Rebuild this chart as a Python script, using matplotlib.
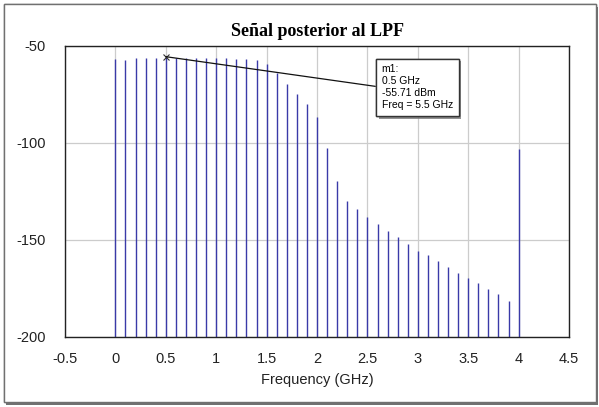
import matplotlib
matplotlib.use("Agg")
import matplotlib.pyplot as plt
import matplotlib.patheffects as pe
from matplotlib.patches import Rectangle

# spectrum after the low pass filter (GHz, dBm)
freqs = [0.0, 0.1, 0.2, 0.3, 0.4, 0.5, 0.6, 0.7, 0.8, 0.9,
         1.0, 1.1, 1.2, 1.3, 1.4, 1.5, 1.6, 1.7, 1.8, 1.9,
         2.0, 2.1, 2.2, 2.3, 2.4, 2.5, 2.6, 2.7, 2.8, 2.9,
         3.0, 3.1, 3.2, 3.3, 3.4, 3.5, 3.6, 3.7, 3.8, 3.9, 4.0]
power = [-57.1, -57.6, -56.5, -56.2, -56.2, -55.71, -56.2, -56.2, -56.3, -56.3,
         -56.5, -56.5, -57.0, -57.0, -57.6, -59.7, -64.3, -69.8, -75.0, -80.0,
         -86.8, -102.6, -119.9, -129.9, -134.2, -138.1, -141.7, -145.2, -148.6, -152.2,
         -155.7, -157.8, -160.9, -164.0, -167.1, -169.7, -172.3, -175.4, -178.0, -181.5,
         -103.3]

xticks = [-0.5, 0, 0.5, 1, 1.5, 2, 2.5, 3, 3.5, 4, 4.5]
xticklabels = ["-0.5", "0", "0.5", "1", "1.5", "2", "2.5", "3", "3.5", "4", "4.5"]
yticks = [-200, -150, -100, -50]

marker_f = 0.5
marker_p = -55.71
marker_text = "m1:\n0.5 GHz\n-55.71 dBm\nFreq = 5.5 GHz"

plt.rcParams['font.family'] = ['Liberation Sans', 'DejaVu Sans']
plt.rcParams['axes.unicode_minus'] = False

fig = plt.figure(figsize=(5.99, 4.07), dpi=100)
ax = fig.add_axes([0.1085, 0.172, 0.8415, 0.716])

# figure frame with a shadow
frame = Rectangle((4 / 599, 5 / 407), 592 / 599, 398 / 407, transform=fig.transFigure,
                  facecolor="white", edgecolor="#707070", linewidth=1.0, zorder=-10)
frame.set_path_effects([pe.withSimplePatchShadow(offset=(1.5, -2), shadow_rgbFace="#606060", alpha=0.9),
                        pe.Normal()])
fig.patches.append(frame)

ax.vlines(freqs, -200, power, colors="#3a3aa8", linewidth=1.0, zorder=2)

ax.set_xlim(-0.5, 4.5)
ax.set_ylim(-200, -50)
ax.set_xticks(xticks)
ax.set_xticklabels(xticklabels)
ax.set_yticks(yticks)
ax.tick_params(length=0, labelsize=10.5, colors="#222222")
ax.tick_params(axis="y", pad=14)
ax.tick_params(axis="x", pad=11)
ax.grid(True, color="#cccccc", linewidth=0.9, zorder=0)
ax.set_axisbelow(True)
for s in ax.spines.values():
    s.set_color("#222222")
    s.set_linewidth(1.0)

ax.set_xlabel("Frequency (GHz)", fontsize=10.5, color="#222222", labelpad=5)
ax.set_title("Señal posterior al LPF", fontsize=13, fontweight="bold",
             family="Liberation Serif", pad=7)

# marker m1
ax.plot([marker_f], [marker_p], marker="x", color="#333333", markersize=4, mew=0.8, zorder=4)
ann = ax.annotate(marker_text, xy=(marker_f, marker_p), xytext=(2.64, -59.6),
                  fontsize=7.5, ha="left", va="top", linespacing=1.25, zorder=5,
                  bbox=dict(boxstyle="square,pad=0.55", facecolor="white",
                            edgecolor="#333333", linewidth=1.0),
                  arrowprops=dict(arrowstyle="-", color="#111111", linewidth=0.9,
                                  relpos=(0, 0.5), shrinkA=0, shrinkB=0))
ann.get_bbox_patch().set_path_effects([
    pe.withSimplePatchShadow(offset=(2, -2), shadow_rgbFace="#777777", alpha=0.8),
    pe.Normal()])

fig.savefig("out.png", dpi=100)
